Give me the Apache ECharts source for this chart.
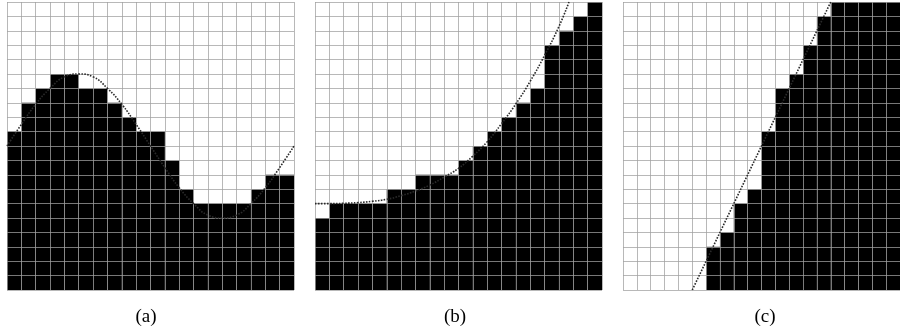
<!DOCTYPE html>
<html>
<head>
<meta charset="utf-8">
<script src="https://cdn.jsdelivr.net/npm/echarts@6/dist/echarts.min.js"></script>
<style>
html,body{margin:0;padding:0;background:#fff;}
#chart{width:900px;height:333px;}
</style>
</head>
<body>
<div id="chart"></div>
<script>
// ---- data ----
const columns = ['1','2','3','4','5','6','7','8','9','10','11','12','13','14','15','16','17','18','19','20'];
const panelLabels = ['(a)', '(b)', '(c)'];

const barsA = [11,13,14,15,15,14,14,13,12,11,11,9,7,6,6,6,6,7,8,8];
const barsB = [5,6,6,6,6,7,7,8,8,8,9,10,11,12,13,14,17,18,19,20];
const barsC = [0,0,0,0,0,0,3,4,6,7,11,14,15,17,19,20,20,20,20,20];

const curveAx = [0,1,2,3,4,5,6,7,8,9,10,11,12,13,14,15,16,17,18,19,20];
const curveAy = [10,11.5,12.9,14.0,14.8,15.0,14.8,14.0,12.9,11.5,10.0,8.5,7.1,6.0,5.2,5.0,5.2,6.0,7.1,8.5,10.0];

const curveBx = [0,1,2,3,4,5,6,7,8,9,10,11,12,13,14,15,16,17,17.7];
const curveBy = [6.0,6.0,6.02,6.07,6.16,6.3,6.55,6.87,7.29,7.84,8.45,9.3,10.3,11.55,12.93,14.5,16.3,18.3,20];

const curveCx = [5,15];
const curveCy = [0,20];

// ---- chart ----
const chart = echarts.init(document.getElementById('chart'), null, {renderer:'canvas'});

const gridLefts = [7, 315, 623];
const gridLineColor = 'rgba(160,160,160,0.75)';
const barSets = [barsA, barsB, barsC];
const curves = [[curveAx, curveAy, true], [curveBx, curveBy, true], [curveCx, curveCy, false]];
const labelX = [146, 455, 765];

const grids = [], xAxes = [], yAxes = [], series = [], graphics = [];
for (let i = 0; i < 3; i++) {
  grids.push({left: gridLefts[i], top: 2, width: 287, height: 288, containLabel: false});
  xAxes.push({
    type: 'category', gridIndex: i, data: columns, boundaryGap: true, z: 5,
    axisLine: {show: false}, axisTick: {show: false}, axisLabel: {show: false},
    splitLine: {show: true, interval: 0, lineStyle: {color: gridLineColor, width: 1}}
  });
  yAxes.push({
    type: 'value', gridIndex: i, min: 0, max: 20, interval: 1, z: 5,
    axisLine: {show: false}, axisTick: {show: false}, axisLabel: {show: false},
    splitLine: {show: true, lineStyle: {color: gridLineColor, width: 1}}
  });
}
for (let i = 0; i < 3; i++) {
  xAxes.push({
    type: 'value', gridIndex: i, min: 0, max: 20, show: false,
    splitLine: {show: false}
  });
}
for (let i = 0; i < 3; i++) {
  series.push({
    type: 'bar', xAxisIndex: i, yAxisIndex: i, data: barSets[i],
    barCategoryGap: '0%', itemStyle: {color: '#000'}, z: 2, silent: true
  });
  const [cx, cy, sm] = curves[i];
  series.push({
    type: 'line', xAxisIndex: 3 + i, yAxisIndex: i,
    data: cx.map((x, k) => [x, cy[k]]),
    smooth: sm, showSymbol: false, z: 10, silent: true,
    lineStyle: {color: '#2a2a2a', width: 1.6, type: [1.6, 1.4]}
  });
  graphics.push({
    type: 'text', x: labelX[i], y: 317,
    style: {text: panelLabels[i], font: '19px "Liberation Serif", serif', fill: '#000',
            textAlign: 'center', textVerticalAlign: 'middle'}
  });
}

chart.setOption({
  animation: false,
  backgroundColor: '#fff',
  grid: grids,
  xAxis: xAxes,
  yAxis: yAxes,
  series: series,
  graphic: graphics
});
</script>
</body>
</html>
